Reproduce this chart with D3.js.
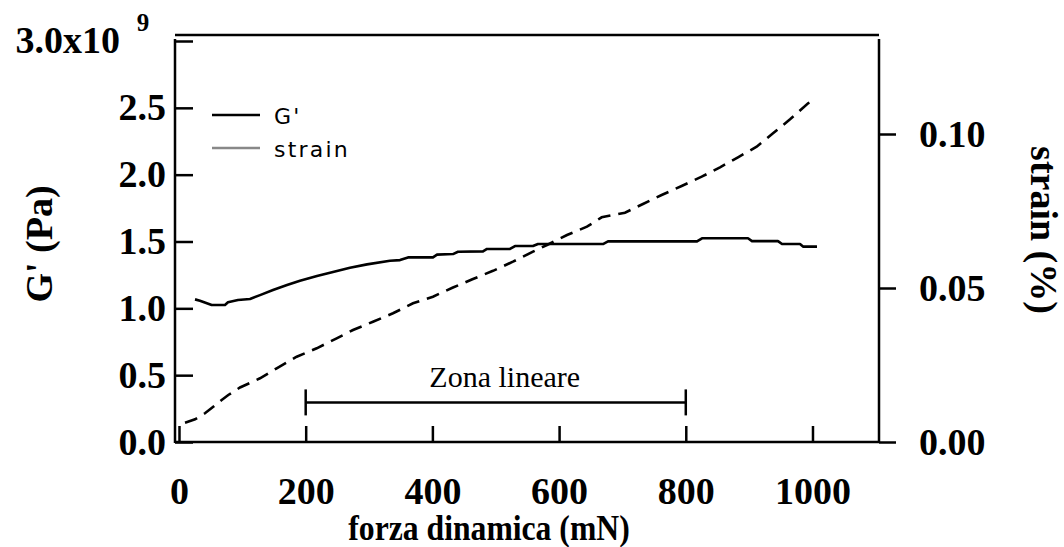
<!DOCTYPE html>
<html>
<head>
<meta charset="utf-8">
<script src="https://cdn.jsdelivr.net/npm/d3@7"></script>
<style>
  html, body { margin: 0; padding: 0; background: #fff; }
  svg { display: block; }
</style>
</head>
<body>
<svg id="chart" width="1064" height="547"></svg>
<script>
// ---- data ----
const gForce = [25.3,33.1,51.6,72.6,77.3,93.1,112.1,127.9,148.4,170.5,191.0,217.8,243.1,269.9,296.8,333.1,348.9,361.5,400.9,407.3,432.5,440.4,479.9,486.2,522.5,530.4,558.8,566.7,669.3,677.2,817.7,825.6,898.2,904.5,945.5,951.9,980.3,985.0,1007.1];
const gModulus = [1.067,1.057,1.025,1.025,1.045,1.062,1.070,1.099,1.137,1.174,1.206,1.242,1.272,1.304,1.329,1.356,1.361,1.381,1.381,1.402,1.406,1.423,1.426,1.444,1.444,1.466,1.466,1.481,1.481,1.501,1.501,1.524,1.524,1.503,1.503,1.481,1.481,1.462,1.462]; // x1e9 Pa
const strainForce = [9.5,25.3,41.0,67.4,77.8,96.3,127.9,154.2,185.8,217.4,248.9,274.7,306.2,337.8,369.4,400.9,432.5,464.1,495.7,527.2,558.8,580.9,612.5,644.0,667.2,704.0,732.4,761.9,793.5,825.1,854.0,882.4,911.9,937.7,964.6,993.0,999.2];
const strainValues = [0.00627,0.00737,0.00932,0.01364,0.01526,0.01769,0.02068,0.02393,0.02769,0.03042,0.03367,0.03636,0.03906,0.04179,0.04503,0.04718,0.05016,0.05292,0.05558,0.05854,0.06179,0.06396,0.06721,0.06990,0.07295,0.07445,0.07727,0.08019,0.08312,0.08614,0.08919,0.09244,0.09588,0.10023,0.10477,0.10997,0.11055];
const xTicks = [0,200,400,600,800,1000];
const yLeftTicks = [0,0.5e9,1.0e9,1.5e9,2.0e9,2.5e9,3.0e9];
const yLeftLabels = ["0.0","0.5","1.0","1.5","2.0","2.5","3.0x10"];
const yRightTicks = [0,0.05,0.10];
const yRightLabels = ["0.00","0.05","0.10"];
const linearZone = [200, 800];
const linearZoneLabel = "Zona lineare";
const legendLabels = ["G'", "strain"];
const xTitle = "forza dinamica (mN)";
const yLeftTitle = "G' (Pa)";
const yRightTitle = "strain (%)";

// ---- scales ----
const svg = d3.select("#chart");
const x = d3.scaleLinear().domain([-6.3, 1105]).range([175, 879]);
const yL = d3.scaleLinear().domain([0, 3e9]).range([442, 41]);
const yR = d3.scaleLinear().domain([0, 0.1]).range([442, 134]);

const serif = "'Liberation Serif','Times New Roman',serif";
const FS = 38;

// frame top line
svg.append("line")
  .attr("x1", x.range()[0]).attr("x2", x.range()[1])
  .attr("y1", yL.range()[1] - 6).attr("y2", yL.range()[1] - 6)
  .attr("stroke", "#000").attr("stroke-width", 2.5);

// right axis line (full height)
svg.append("line")
  .attr("x1", x.range()[1]).attr("x2", x.range()[1])
  .attr("y1", yL.range()[1] - 2).attr("y2", yL.range()[0] + 1)
  .attr("stroke", "#000").attr("stroke-width", 2.5);

// left axis
const gL = svg.append("g").attr("transform", `translate(${x.range()[0]},0)`)
  .call(d3.axisLeft(yL).tickValues(yLeftTicks).tickSize(-18).tickSizeOuter(0)
    .tickFormat((d, i) => yLeftLabels[i]));
gL.select(".domain").attr("stroke-width", 2.5)
  .attr("d", `M0,${yL.range()[0] + 1}V${yL.range()[1] - 2}`);
gL.selectAll(".tick line").attr("stroke-width", 2.5);
gL.selectAll(".tick text")
  .attr("x", null).attr("dy", null)
  .attr("transform", d => d === 3e9 ? "translate(-55,11)" : "translate(-9,12)")
  .attr("font-family", serif).attr("font-weight", "bold").attr("font-size", FS)
  .attr("fill", "#000").attr("text-anchor", "end");
// superscript exponent on the top label
svg.append("text")
  .attr("x", 143).attr("y", yL(3e9) - 10)
  .attr("text-anchor", "middle")
  .attr("font-family", serif).attr("font-weight", "bold").attr("font-size", 25)
  .text("9");

// bottom axis
const gB = svg.append("g").attr("transform", `translate(0,${yL.range()[0]})`)
  .call(d3.axisBottom(x).tickValues(xTicks).tickSize(-16).tickSizeOuter(0).tickFormat(d3.format("d")));
gB.select(".domain").attr("stroke-width", 2.5)
  .attr("d", `M${x.range()[0]},0H${x.range()[1]}`);
gB.selectAll(".tick line").attr("stroke-width", 2.5);
gB.selectAll(".tick text")
  .attr("y", null).attr("dy", null)
  .attr("transform", "translate(0,62)")
  .attr("font-family", serif).attr("font-weight", "bold").attr("font-size", FS)
  .attr("fill", "#000");

// right axis
const gR = svg.append("g").attr("transform", `translate(${x.range()[1]},0)`)
  .call(d3.axisRight(yR).tickValues(yRightTicks).tickSize(17).tickSizeOuter(0)
    .tickFormat((d, i) => yRightLabels[i]));
gR.select(".domain").remove();
gR.selectAll(".tick line").attr("stroke-width", 2.5);
gR.selectAll(".tick text")
  .attr("x", null).attr("dy", null)
  .attr("transform", "translate(40,12)")
  .attr("font-family", serif).attr("font-weight", "bold").attr("font-size", FS)
  .attr("fill", "#000").attr("text-anchor", "start");

// titles
svg.append("text")
  .attr("transform", "translate(489,540) scale(0.88,1)")
  .attr("text-anchor", "middle")
  .attr("font-family", serif).attr("font-weight", "bold").attr("font-size", 36)
  .text(xTitle);
svg.append("text")
  .attr("transform", "translate(52,244) rotate(-90)")
  .attr("text-anchor", "middle")
  .attr("font-family", serif).attr("font-weight", "bold").attr("font-size", FS)
  .text(yLeftTitle);
svg.append("text")
  .attr("transform", "translate(1031,230) rotate(90)")
  .attr("text-anchor", "middle")
  .attr("font-family", serif).attr("font-weight", "bold").attr("font-size", FS)
  .text(yRightTitle);

// curves
const gData = gForce.map((f, i) => [f, gModulus[i] * 1e9]);
const sData = strainForce.map((f, i) => [f, strainValues[i]]);
svg.append("path").datum(gData)
  .attr("fill", "none").attr("stroke", "#000").attr("stroke-width", 2.6)
  .attr("stroke-linejoin", "round")
  .attr("d", d3.line().x(d => x(d[0])).y(d => yL(d[1])));
svg.append("path").datum(sData)
  .attr("fill", "none").attr("stroke", "#000").attr("stroke-width", 2.6)
  .attr("stroke-dasharray", "13,8")
  .attr("d", d3.line().x(d => x(d[0])).y(d => yR(d[1])));

// linear zone bracket
const bracketY = yL(0.3e9) + 0.5;
const zg = svg.append("g");
zg.append("line").attr("x1", x(linearZone[0])).attr("x2", x(linearZone[1]))
  .attr("y1", bracketY).attr("y2", bracketY).attr("stroke", "#000").attr("stroke-width", 2.5);
linearZone.forEach(v => {
  zg.append("line").attr("x1", x(v)).attr("x2", x(v))
    .attr("y1", bracketY - 13).attr("y2", bracketY + 13)
    .attr("stroke", "#000").attr("stroke-width", 2.5);
});
zg.append("text")
  .attr("x", (x(linearZone[0]) + x(linearZone[1])) / 2 + 9).attr("y", bracketY - 15)
  .attr("text-anchor", "middle")
  .attr("font-family", serif).attr("font-size", 30)
  .text(linearZoneLabel);

// legend
const legendColors = ["#000", "#888"];
const lg = svg.append("g");
legendLabels.forEach((lab, i) => {
  const ly = 115 + i * 33;
  lg.append("line").attr("x1", 212).attr("x2", 260).attr("y1", ly).attr("y2", ly)
    .attr("stroke", legendColors[i]).attr("stroke-width", 2.5);
  lg.append("text").attr("x", 274).attr("y", ly + 9)
    .attr("font-family", "'DejaVu Sans',sans-serif").attr("font-size", 22)
    .attr("letter-spacing", 2.2)
    .text(lab);
});
</script>
</body>
</html>
